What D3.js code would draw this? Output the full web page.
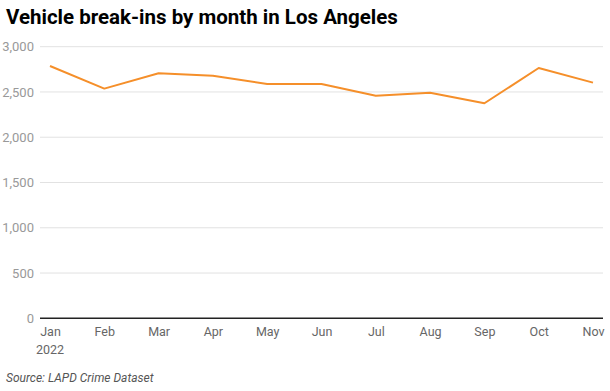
<!DOCTYPE html>
<html><head><meta charset="utf-8">
<script src="https://cdn.jsdelivr.net/npm/d3@7"></script>
<style>
html,body{margin:0;padding:0;background:#fff;}
svg{display:block;font-family:Roboto,"Noto Sans",sans-serif;}
</style></head>
<body>
<svg id="c" width="610" height="391"></svg>
<script>
const months = ["Jan","Feb","Mar","Apr","May","Jun","Jul","Aug","Sep","Oct","Nov"];
const breakIns = [2787,2537,2706,2680,2588,2588,2459,2492,2375,2765,2603];
const yTicks = [0,500,1000,1500,2000,2500,3000];
const title = "Vehicle break-ins by month in Los Angeles";
const source = "Source: LAPD Crime Dataset";

const svg = d3.select("#c");
const x = d3.scalePoint().domain(months).range([50,593]);
const y = d3.scaleLinear().domain([0,3000]).range([318.3,46.7]);

svg.append("text").attr("x",6).attr("y",24)
  .attr("font-size",20.5).attr("font-weight",700).attr("fill","#000")
  .text(title);

const yAxis = svg.append("g").attr("transform","translate(40,0)")
  .call(d3.axisLeft(y).tickValues(yTicks).tickSize(0).tickPadding(6).tickFormat(d3.format(",")));
yAxis.select(".domain").remove();
yAxis.selectAll("text").attr("font-size",13).attr("fill","#999").attr("font-family","Roboto,sans-serif");

svg.append("g").selectAll("line").data(yTicks.filter(d=>d>0)).join("line")
  .attr("x1",40).attr("x2",603).attr("y1",d=>y(d)).attr("y2",d=>y(d))
  .attr("stroke","#e2e2e2").attr("stroke-width",1);

svg.append("line").attr("x1",40).attr("x2",603).attr("y1",y(0)).attr("y2",y(0))
  .attr("stroke","#222").attr("stroke-width",1.5);

const xAxis = svg.append("g").attr("transform",`translate(0,${y(0)})`)
  .call(d3.axisBottom(x).tickSize(0).tickPadding(9));
xAxis.select(".domain").remove();
xAxis.selectAll("text").attr("font-size",12.5).attr("fill","#666").attr("font-family","Roboto,sans-serif");
svg.append("text").attr("x",x("Jan")).attr("y",354).attr("text-anchor","middle")
  .attr("font-size",12.5).attr("fill","#666").text("2022");

const line = d3.line().x((d,i)=>x(months[i])).y(d=>y(d));
svg.append("path").datum(breakIns).attr("d",line)
  .attr("fill","none").attr("stroke","#f58f2a").attr("stroke-width",2).attr("stroke-linejoin","round");

svg.append("text").attr("x",6).attr("y",382).attr("font-size",12).attr("font-style","italic")
  .attr("fill","#555").text(source);
</script>
</body></html>
